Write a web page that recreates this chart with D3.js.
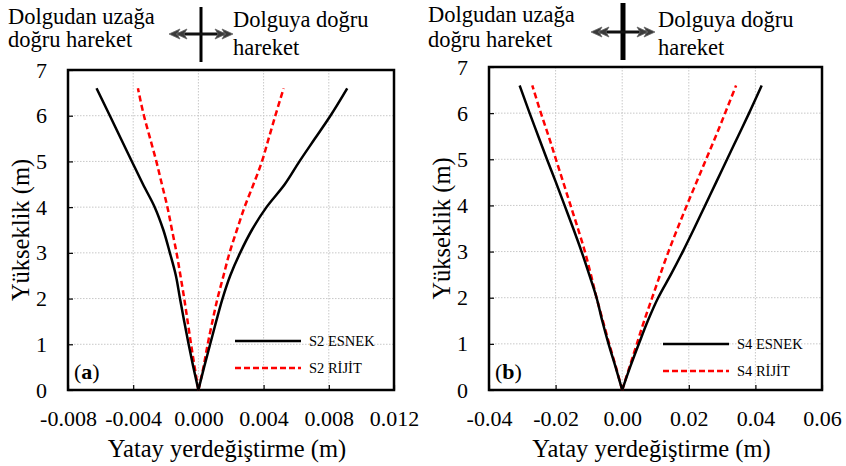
<!DOCTYPE html>
<html>
<head>
<meta charset="utf-8">
<script src="https://cdn.jsdelivr.net/npm/d3@7"></script>
<style>
  body { margin: 0; background: #fff; }
  svg { display: block; }
</style>
</head>
<body>
<svg width="846" height="466"></svg>
<script>
// heights along the wall (m)
const heights = [0, 0.5, 1, 1.5, 2, 2.5, 3, 3.5, 4, 4.5, 5, 5.5, 6, 6.6];

// panel (a) S2 - horizontal displacement (m)
const s2EsnekLeft  = [0, -0.00031, -0.0006, -0.00087, -0.00113, -0.00138, -0.00175, -0.00215, -0.00268, -0.0034, -0.00408, -0.00476, -0.00543, -0.00625];
const s2EsnekRight = [0, 0.00035, 0.00072, 0.00109, 0.00148, 0.00195, 0.00256, 0.00328, 0.00418, 0.0053, 0.0062, 0.00715, 0.0081, 0.00913];
const s2RijitLeft  = [0, -0.00023, -0.00045, -0.00066, -0.00087, -0.0011, -0.00134, -0.00162, -0.0019, -0.00224, -0.00258, -0.00296, -0.00334, -0.00371];
const s2RijitRight = [0, 0.00031, 0.00057, 0.00086, 0.00117, 0.00154, 0.00191, 0.00236, 0.00283, 0.00338, 0.0039, 0.00431, 0.00472, 0.00523];

// panel (b) S4
const s4EsnekLeft  = [0, -0.002, -0.0041, -0.006, -0.0077, -0.0099, -0.0122, -0.0147, -0.0173, -0.0199, -0.0226, -0.0252, -0.0278, -0.0308];
const s4EsnekRight = [0, 0.0024, 0.005, 0.0077, 0.0108, 0.0146, 0.0182, 0.0216, 0.0249, 0.0282, 0.0315, 0.0348, 0.0381, 0.0419];
const s4RijitLeft  = [0, -0.0019, -0.0039, -0.0058, -0.0077, -0.0094, -0.0112, -0.0133, -0.0155, -0.0177, -0.0199, -0.0221, -0.0244, -0.0270];
const s4RijitRight = [0, 0.0022, 0.0044, 0.0066, 0.009, 0.0114, 0.0139, 0.0166, 0.0194, 0.0223, 0.0252, 0.0281, 0.0309, 0.0342];

const s2Ticks = [-0.008, -0.004, 0, 0.004, 0.008, 0.012];
const s4Ticks = [-0.04, -0.02, 0, 0.02, 0.04, 0.06];
const yTicks = [0, 1, 2, 3, 4, 5, 6, 7];

const FONT = '"Liberation Serif"';
const svg = d3.select("svg");

function txt(g, x, y, size, s) {
  return g.append("text").attr("x", x).attr("y", y).attr("font-size", size)
    .style("font-family", FONT).text(s);
}

function drawPanel(opt) {
  const x = d3.scaleLinear().domain(opt.xDomain).range([opt.left, opt.right]);
  const y = d3.scaleLinear().domain([0, 7]).range([opt.bottom, opt.top]);
  const g = svg.append("g");

  // grid
  g.selectAll(".gx").data(opt.xTicks.slice(1, -1)).enter().append("line")
    .attr("x1", d => x(d)).attr("x2", d => x(d))
    .attr("y1", opt.top).attr("y2", opt.bottom)
    .attr("stroke", "#c8c8c8").attr("stroke-width", 1).attr("stroke-dasharray", "1.5,1.5");
  g.selectAll(".gy").data(yTicks.slice(1, -1)).enter().append("line")
    .attr("x1", opt.left).attr("x2", opt.right)
    .attr("y1", d => y(d)).attr("y2", d => y(d))
    .attr("stroke", "#c8c8c8").attr("stroke-width", 1).attr("stroke-dasharray", "1.5,1.5");

  // axes with inside ticks
  const xAxis = d3.axisBottom(x).tickValues(opt.xTicks).tickSizeInner(-5).tickSizeOuter(0)
    .tickPadding(36).tickFormat(d => d.toFixed(opt.dec));
  const gx = g.append("g").attr("transform", `translate(0,${opt.bottom})`).call(xAxis);
  const yAxis = d3.axisLeft(y).tickValues(yTicks).tickSizeInner(-5).tickSizeOuter(0)
    .tickPadding(21).tickFormat(d => String(d));
  const gy = g.append("g").attr("transform", `translate(${opt.left},0)`).call(yAxis);
  [gx, gy].forEach(a => {
    a.attr("font-family", null);
    a.select(".domain").remove();
    a.selectAll("line").attr("stroke", "#000").attr("stroke-width", 1.2);
    a.selectAll("text").attr("font-size", 22).style("font-family", FONT);
  });
  gx.selectAll("text").attr("dy", "0");

  // frame
  g.append("rect").attr("x", opt.left).attr("y", opt.top)
    .attr("width", opt.right - opt.left).attr("height", opt.bottom - opt.top)
    .attr("fill", "none").attr("stroke", "#000").attr("stroke-width", 2.5);

  // curves
  const line = d3.line().x(d => x(d[0])).y(d => y(d[1])).curve(d3.curveMonotoneY);
  const series = [
    { vals: opt.rijit, color: "#ff0000", dash: "6,3.5" },
    { vals: opt.esnek, color: "#000", dash: null }
  ];
  series.forEach(s => {
    s.vals.forEach(branch => {
      g.append("path").datum(branch.map((v, i) => [v, heights[i]]))
        .attr("d", line).attr("fill", "none")
        .attr("stroke", s.color).attr("stroke-width", 2.5)
        .attr("stroke-dasharray", s.dash);
    });
  });

  // legend
  const items = [
    { label: opt.names[0], color: "#000", dash: null },
    { label: opt.names[1], color: "#ff0000", dash: "6,3" }
  ];
  items.forEach((it, i) => {
    const ly = opt.legY + i * 27;
    g.append("line").attr("x1", opt.legX).attr("x2", opt.legX + 66)
      .attr("y1", ly).attr("y2", ly)
      .attr("stroke", it.color).attr("stroke-width", 2.5).attr("stroke-dasharray", it.dash);
    txt(g, opt.legX + 74, ly + 5, 14.5, it.label);
  });

  // panel letter
  const pl = txt(g, opt.left + 6, opt.bottom - 11, 22, null);
  pl.append("tspan").text("(");
  pl.append("tspan").attr("font-weight", "bold").text(opt.letter);
  pl.append("tspan").text(")");

  // axis titles
  txt(g, (opt.left + opt.right) / 2 - 4, 457, 24.5, "Yatay yerdeğiştirme (m)")
    .attr("text-anchor", "middle");
  txt(g, 0, 0, 24.5, "Yükseklik (m)")
    .attr("transform", `translate(${opt.left - 39},${(opt.top + opt.bottom) / 2}) rotate(-90)`)
    .attr("text-anchor", "middle");

  // movement annotation
  const a = opt.ann;
  txt(g, a.tx, a.ty, 22.5, "Dolgudan uzağa");
  txt(g, a.tx, 47, 22.5, "doğru hareket");
  txt(g, a.rx, 27, 22.5, "Dolguya doğru");
  txt(g, a.rx, 55, 22.5, "hareket");
  g.append("line").attr("x1", a.cx).attr("x2", a.cx).attr("y1", a.vTop).attr("y2", a.vBot)
    .attr("stroke", "#000").attr("stroke-width", a.vw);
  g.append("line").attr("x1", a.cx - 24).attr("x2", a.cx + 24).attr("y1", a.cy).attr("y2", a.cy)
    .attr("stroke", "#111").attr("stroke-width", 3);
  [-1, 1].forEach(s => {
    const tip = a.cx + s * 32;
    [0, 7].forEach(off => {
      const t = tip - s * off;
      g.append("path")
        .attr("d", `M${t},${a.cy} L${t - s * 11},${a.cy - 5} L${t - s * 8},${a.cy} L${t - s * 11},${a.cy + 5} Z`)
        .attr("fill", "#3a3a3a").attr("stroke", "#666").attr("stroke-width", 0.8);
    });
  });
}

drawPanel({
  left: 68, right: 394, top: 70, bottom: 390,
  xDomain: [-0.008, 0.012], xTicks: s2Ticks, dec: 3,
  esnek: [s2EsnekLeft, s2EsnekRight], rijit: [s2RijitLeft, s2RijitRight],
  names: ["S2 ESNEK", "S2 RİJİT"], letter: "a",
  legX: 235, legY: 341,
  ann: { tx: 8, ty: 24, rx: 233, cx: 201, cy: 34, vTop: 7, vBot: 62, vw: 3 }
});

drawPanel({
  left: 489, right: 822, top: 67, bottom: 390,
  xDomain: [-0.04, 0.06], xTicks: s4Ticks, dec: 2,
  esnek: [s4EsnekLeft, s4EsnekRight], rijit: [s4RijitLeft, s4RijitRight],
  names: ["S4 ESNEK", "S4 RİJİT"], letter: "b",
  legX: 663, legY: 344,
  ann: { tx: 428, ty: 22, rx: 658, cx: 623, cy: 32, vTop: 3, vBot: 60, vw: 5 }
});
</script>
</body>
</html>
